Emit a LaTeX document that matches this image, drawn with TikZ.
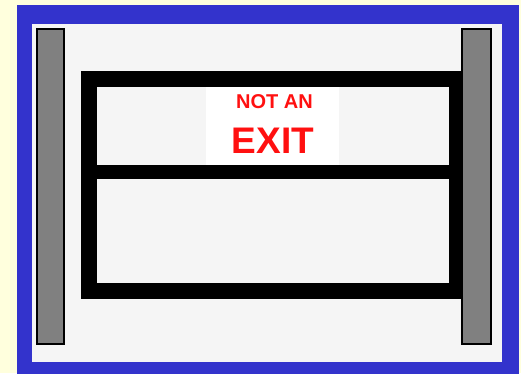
\documentclass[tikz,border=0pt]{standalone}
\usepackage{fontspec}
\setmainfont{Liberation Sans}
\definecolor{bgyellow}{HTML}{FFFFDD}
\definecolor{borderblue}{HTML}{3333CC}
\definecolor{panelgray}{HTML}{F5F5F5}
\definecolor{postgray}{HTML}{808080}
\definecolor{signred}{HTML}{FF1010}
\tikzset{
  post/.style={fill=postgray, draw=black, line width=2pt},
  bar/.style={draw=black, line width=16pt, line join=miter},
  signtext/.style={text=signred, inner sep=0pt, anchor=center}
}
\begin{document}
\begin{tikzpicture}[x=1pt,y=-1pt]
\useasboundingbox (0,0) rectangle (521,373);
\clip (0,0) rectangle (521,373);
\fill[bgyellow] (0,0) rectangle (521,373);
\fill[borderblue] (17,5) rectangle (519,385);
\fill[panelgray] (32,24) rectangle (502,362);
% sign
\fill[white] (206,87) rectangle (339,166);
% frame
\draw[bar] (89,79) rectangle (457,291);
\draw[draw=black, line width=14pt] (89,172) -- (457,172);
% posts
\draw[post] (37,28.5) rectangle (63.5,343.5);
\draw[post] (462,28.5) rectangle (490.5,343.5);
% text
\node[signtext, font=\bfseries\fontsize{20}{20}\selectfont] (nota) at (274.5,102) {NOT AN};
\node[signtext, font=\bfseries\fontsize{37}{37}\selectfont] (exit) at (273,141) {EXIT};
\end{tikzpicture}
\end{document}
